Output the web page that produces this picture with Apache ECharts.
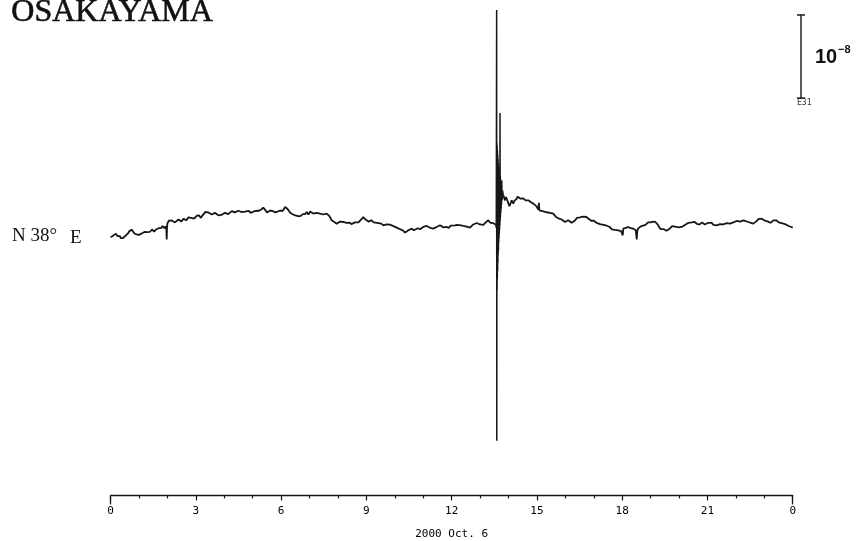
<!DOCTYPE html>
<html>
<head>
<meta charset="utf-8">
<script src="https://cdn.jsdelivr.net/npm/echarts@6/dist/echarts.min.js"></script>
<style>
  html, body { margin: 0; padding: 0; background: #ffffff; }
  #chart { width: 866px; height: 541px; }
</style>
</head>
<body>
<div id="chart"></div>
<script>
// Extensometer record, Osakayama station, 2000 Oct. 6 (hours, nanostrain)
const stationName = 'OSAKAYAMA';
const componentAngle = 'N 38°';
const componentDir = 'E';
const dateLabel = '2000 Oct. 6';
const hourTickLabels = ['0', '3', '6', '9', '12', '15', '18', '21', '0'];
const scaleBarLabel = '10';
const scaleBarExponent = '−8';
const scaleBarTag = 'E31';
const scaleBarStrain = 10;          // 1e-8 strain = 10 nanostrain
const scaleBarBase = 15.3;          // nanostrain level of the bar's lower end

// quiet trace, 00:00 until the seismic arrival
const traceBefore = [
  [0,-1.45],[0.02,-1.25],[0.04,-1.2],[0.06,-1.4],[0.084,-1.25],[0.11,-1.05],[0.13,-1.0],[0.15,-1.25],
  [0.17,-1.2],[0.19,-1.0],[0.215,-1.08],[0.24,-1.3],[0.27,-1.35],[0.30,-1.15],[0.331,-1.3],[0.355,-1.55],
  [0.38,-1.5],[0.41,-1.35],[0.436,-1.53],[0.47,-1.45],[0.5,-1.3],[0.54,-1.2],[0.577,-0.96],[0.62,-0.95],
  [0.66,-0.7],[0.70,-0.7],[0.742,-0.52],[0.77,-0.75],[0.8,-0.7],[0.83,-0.95],[0.859,-0.9],[0.885,-1.15],
  [0.91,-1.1],[0.94,-1.0],[0.964,-1.2],[1.0,-1.15],[1.03,-1.0],[1.07,-1.15],[1.105,-0.96],[1.15,-0.95],
  [1.19,-0.8],[1.23,-1.0],[1.27,-0.81],[1.30,-0.75],[1.34,-0.6],[1.38,-0.8],[1.422,-0.7],[1.455,-0.5],
  [1.49,-0.55],[1.53,-0.75],[1.562,-0.6],[1.60,-0.5],[1.65,-0.3],[1.69,-0.35],[1.738,-0.12],[1.77,-0.35],
  [1.8,-0.3],[1.83,-0.1],[1.86,-0.15],[1.89,-0.35],[1.914,-0.28],[1.94,-0.1],[1.96,-0.4],[1.974,-1.69],
  [1.985,-0.3],[2.0,0.25],[2.02,0.3],[2.05,0.55],[2.09,0.4],[2.14,0.6],[2.2,0.45],[2.26,0.35],
  [2.326,0.52],[2.39,0.7],[2.45,0.6],[2.49,0.45],[2.53,0.55],[2.57,0.8],[2.618,0.69],[2.66,0.6],
  [2.7,0.8],[2.74,0.95],[2.78,0.75],[2.84,0.9],[2.9,1.0],[2.94,0.8],[2.98,0.95],[3.03,1.15],
  [3.076,1.33],[3.11,1.2],[3.14,1.05],[3.17,0.9],[3.205,1.0],[3.25,1.25],[3.29,1.4],[3.33,1.6],
  [3.381,1.72],[3.44,1.55],[3.5,1.5],[3.56,1.3],[3.614,1.41],[3.67,1.5],[3.73,1.3],[3.79,1.2],
  [3.846,1.12],[3.9,1.25],[3.96,1.3],[4.02,1.5],[4.085,1.48],[4.14,1.35],[4.2,1.55],[4.26,1.7],
  [4.317,1.72],[4.37,1.55],[4.43,1.6],[4.49,1.75],[4.553,1.53],[4.61,1.6],[4.67,1.45],[4.73,1.65],
  [4.789,1.6],[4.86,1.75],[4.93,1.5],[5.0,1.55],[5.081,1.72],[5.15,1.55],[5.22,1.75],[5.3,1.9],
  [5.373,2.13],[5.41,1.95],[5.45,1.8],[5.5,1.55],[5.549,1.6],[5.6,1.75],[5.64,1.55],[5.68,1.75],
  [5.725,1.72],[5.8,1.55],[5.87,1.6],[5.95,1.75],[6.02,1.6],[6.06,1.75],[6.1,1.9],[6.14,2.2],
  [6.172,2.41],[6.22,2.0],[6.27,1.8],[6.32,1.5],[6.372,1.48],[6.42,1.3],[6.46,1.1],[6.5,1.2],
  [6.548,1.0],[6.59,1.1],[6.63,1.25],[6.68,1.1],[6.724,1.2],[6.77,1.35],[6.81,1.5],[6.85,1.35],
  [6.9,1.6],[6.93,1.45],[6.96,1.3],[6.99,1.5],[7.02,1.65],[7.08,1.45],[7.132,1.41],[7.19,1.6],
  [7.25,1.5],[7.31,1.35],[7.368,1.41],[7.42,1.55],[7.48,1.3],[7.54,1.45],[7.604,1.41],[7.65,1.3],
  [7.7,1.1],[7.74,0.85],[7.78,0.6],[7.82,0.55],[7.87,0.4],[7.91,0.3],[7.956,0.2],[8.01,0.35],
  [8.07,0.45],[8.13,0.3],[8.188,0.4],[8.24,0.25],[8.3,0.3],[8.35,0.45],[8.399,0.33],[8.47,0.15],
  [8.53,0.2],[8.6,0.35],[8.66,0.2],[8.72,0.35],[8.77,0.5],[8.83,0.75],[8.892,1.0],[8.95,0.75],
  [9.01,0.6],[9.07,0.45],[9.128,0.4],[9.17,0.6],[9.22,0.5],[9.26,0.35],[9.304,0.4],[9.38,0.3],
  [9.45,0.15],[9.52,0.2],[9.596,0],[9.65,0.2],[9.71,0.1],[9.77,-0.05],[9.831,0.08],[9.89,0.15],
  [9.95,-0.1],[10.01,-0.05],[10.067,-0.28],[10.13,-0.3],[10.2,-0.5],[10.28,-0.6],[10.359,-0.88],[10.42,-0.7],
  [10.48,-0.6],[10.54,-0.45],[10.595,-0.4],[10.67,-0.6],[10.74,-0.5],[10.81,-0.35],[10.887,-0.48],[10.94,-0.35],
  [11.0,-0.2],[11.06,-0.35],[11.123,-0.08],[11.18,-0.2],[11.24,-0.3],[11.3,-0.2],[11.355,-0.4],[11.41,-0.3],
  [11.47,-0.2],[11.53,-0.1],[11.591,0],[11.65,-0.15],[11.71,-0.25],[11.77,-0.1],[11.826,-0.2],[11.9,-0.3],
  [11.97,-0.05],[12.04,-0.15],[12.118,0],[12.19,0.05],[12.26,-0.15],[12.33,0],[12.41,-0.08],[12.47,0.05],
  [12.53,-0.15],[12.59,-0.1],[12.646,-0.28],[12.7,-0.1],[12.76,0.1],[12.82,0.05],[12.882,0.28],[12.94,0.2],
  [13.0,0.1],[13.06,0.25],[13.114,0.06],[13.16,0.2],[13.2,0.35],[13.25,0.2],[13.29,0.6],[13.32,0.45],
  [13.35,0.33],[13.39,0.15],[13.42,0.1],[13.46,0.25],[13.491,0.08],[13.52,0.2],[13.55,0.1]
];

// seismic waves of the Western Tottori earthquake
const traceBurst = [
  [13.55,0.1],[13.57,-0.3],[13.583,25.9],[13.588,-25.9],[13.592,9.9],[13.597,-7.8],[13.602,9.5],[13.607,-6.5],
  [13.612,9.0],[13.617,-5.5],[13.622,8.5],[13.627,-4.5],[13.632,8.0],[13.637,-3.5],[13.642,7.5],[13.647,-3.0],
  [13.652,7.0],[13.657,-2.0],[13.662,6.5],[13.667,-1.5],[13.672,6.0],[13.677,-1.0],[13.682,5.5],[13.687,-0.5],
  [13.692,5.0],[13.697,0],[13.702,13.5],[13.707,0.5],[13.712,6.0],[13.718,1.0],[13.724,5.5],[13.73,1.5],
  [13.736,5.0],[13.742,2.0],[13.748,4.8],[13.754,2.5],[13.762,5.4],[13.775,3.0],[13.79,4.2],[13.818,3.6]
];

// recovery after the shaking, until 24:00
const traceAfter = [
  [13.818,3.6],[13.85,3.3],[13.88,3.0],[13.91,3.4],[13.937,3.25],[13.97,2.9],[14.0,2.6],[14.03,2.3],
  [14.054,2.2],[14.08,2.7],[14.113,3.0],[14.14,2.8],[14.17,2.6],[14.2,2.9],[14.23,2.81],[14.26,3.1],
  [14.29,3.2],[14.32,3.45],[14.345,3.61],[14.39,3.3],[14.43,3.2],[14.48,3.4],[14.521,3.25],[14.56,3.1],
  [14.6,3.0],[14.65,3.15],[14.697,3.01],[14.74,2.85],[14.78,2.8],[14.83,2.7],[14.873,2.61],[14.93,2.45],
  [14.98,2.3],[15.02,2.1],[15.05,1.9],[15.07,2.7],[15.084,1.81],[15.14,1.75],[15.2,1.7],[15.27,1.6],
  [15.345,1.57],[15.4,1.4],[15.46,1.5],[15.52,1.35],[15.577,1.41],[15.62,1.2],[15.67,1.0],[15.71,0.95],
  [15.753,0.84],[15.78,0.7],[15.813,0.6],[15.87,0.7],[15.93,0.55],[15.99,0.4],[16.049,0.52],[16.1,0.6],
  [16.16,0.45],[16.22,0.3],[16.281,0.4],[16.33,0.55],[16.37,0.7],[16.41,0.9],[16.457,1.0],[16.51,0.95],
  [16.57,1.1],[16.63,1.05],[16.692,1.2],[16.74,1.0],[16.78,0.95],[16.82,0.8],[16.868,0.69],[16.91,0.55],
  [16.96,0.5],[17.0,0.55],[17.044,0.4],[17.1,0.3],[17.16,0.3],[17.22,0.15],[17.28,0.2],[17.34,0.05],
  [17.4,0.1],[17.46,-0.05],[17.512,0],[17.56,-0.2],[17.6,-0.3],[17.64,-0.5],[17.688,-0.6],[17.74,-0.55],
  [17.8,-0.7],[17.86,-0.6],[17.924,-0.81],[17.96,-0.7],[17.99,-0.6],[18.02,-1.2],[18.04,-0.4],[18.09,-0.45],
  [18.13,-0.3],[18.17,-0.15],[18.216,-0.2],[18.26,-0.15],[18.3,-0.35],[18.35,-0.3],[18.392,-0.4],[18.44,-0.5],
  [18.48,-0.6],[18.512,-1.7],[18.53,-0.7],[18.56,-0.4],[18.6,-0.2],[18.64,-0.15],[18.688,0],[18.73,-0.05],
  [18.78,0.1],[18.82,0.05],[18.864,0.2],[18.91,0.35],[18.95,0.4],[19.0,0.35],[19.04,0.52],[19.09,0.45],
  [19.13,0.3],[19.17,0.4],[19.215,0.2],[19.26,0.05],[19.3,-0.2],[19.35,-0.45],[19.391,-0.6],[19.45,-0.45],
  [19.5,-0.5],[19.56,-0.65],[19.624,-0.52],[19.67,-0.4],[19.72,-0.3],[19.76,-0.1],[19.799,0],[19.86,-0.15],
  [19.92,-0.1],[19.98,-0.25],[20.035,-0.33],[20.09,-0.2],[20.15,-0.1],[20.21,0.05],[20.271,0.12],[20.33,0.3],
  [20.39,0.4],[20.45,0.35],[20.503,0.52],[20.55,0.4],[20.6,0.3],[20.64,0.15],[20.679,0],[20.72,0.1],
  [20.77,0.15],[20.81,0.35],[20.855,0.28],[20.91,0.1],[20.97,0.15],[21.03,0.3],[21.091,0.2],[21.15,0.3],
  [21.21,0.05],[21.27,0.15],[21.326,0],[21.38,0.2],[21.44,0.15],[21.5,0.3],[21.559,0.12],[21.62,0.2],
  [21.68,0.25],[21.74,0.1],[21.794,0.2],[21.85,0.3],[21.91,0.35],[21.97,0.45],[22.03,0.52],[22.09,0.35],
  [22.15,0.45],[22.2,0.6],[22.262,0.6],[22.3,0.45],[22.35,0.5],[22.39,0.35],[22.438,0.4],[22.48,0.25],
  [22.53,0.3],[22.57,0.15],[22.614,0.2],[22.67,0.35],[22.73,0.5],[22.79,0.75],[22.85,0.93],[22.91,0.8],
  [22.97,0.7],[23.03,0.55],[23.086,0.6],[23.13,0.45],[23.17,0.45],[23.22,0.3],[23.262,0.4],[23.29,0.5],
  [23.32,0.6],[23.35,0.75],[23.378,0.81],[23.42,0.6],[23.47,0.5],[23.51,0.35],[23.554,0.2],[23.61,0.25],
  [23.67,0.1],[23.73,0.15],[23.789,0],[23.84,-0.05],[23.9,-0.1],[23.95,-0.2],[24.0,-0.28]
];

const INK = '#161616';
const Y_MIN = -32.5, Y_MAX = 26.5;
const TOP = 5, BOTTOM = 45.5;
const RECORD_GRID = { left: 110.6, right: 73.3, top: TOP, bottom: BOTTOM, outerBoundsMode: 'none', containLabel: false };
const BAR_GRID = { left: 797, width: 8, top: TOP, bottom: BOTTOM, outerBoundsMode: 'none', containLabel: false };

const chart = echarts.init(document.getElementById('chart'), null, { renderer: 'canvas' });

const ink = (w) => ({ color: INK, width: w });
const hiddenY = (gi) => ({ type: 'value', gridIndex: gi, min: Y_MIN, max: Y_MAX, show: false, splitLine: { show: false } });

chart.setOption({
  backgroundColor: '#ffffff',
  animation: false,
  grid: [ { ...RECORD_GRID }, { ...RECORD_GRID }, { ...BAR_GRID } ],
  xAxis: [
    {
      type: 'value', gridIndex: 0, min: 0, max: 24, interval: 3,
      name: dateLabel, nameLocation: 'middle', nameGap: 33,
      nameTextStyle: { fontFamily: 'DejaVu Sans Mono', fontSize: 11, color: '#000' },
      axisLine: { show: true, onZero: false, lineStyle: ink(1.3) },
      axisTick: { show: true, length: 5, lineStyle: ink(1.2) },
      minorTick: { show: true, splitNumber: 3, length: 3, lineStyle: ink(1.2) },
      axisLabel: {
        margin: 10, fontFamily: 'DejaVu Sans Mono', fontSize: 11, color: '#000',
        formatter: (v) => hourTickLabels[Math.round(v / 3)]
      },
      splitLine: { show: false }
    },
    {
      // taller ticks marking the two ends of the day
      type: 'value', gridIndex: 1, min: 0, max: 24, interval: 24,
      axisLine: { show: false, onZero: false },
      axisTick: { show: true, length: 9, lineStyle: ink(1.3) },
      axisLabel: { show: false },
      splitLine: { show: false }
    },
    { type: 'value', gridIndex: 2, min: 0, max: 1, show: false, splitLine: { show: false } }
  ],
  yAxis: [ hiddenY(0), hiddenY(1), hiddenY(2) ],
  series: [
    {
      type: 'line', xAxisIndex: 0, yAxisIndex: 0, data: traceBefore,
      showSymbol: false, lineStyle: ink(1.8), silent: true
    },
    {
      type: 'line', xAxisIndex: 0, yAxisIndex: 0, data: traceBurst,
      showSymbol: false, lineStyle: ink(1.5), silent: true
    },
    {
      type: 'line', xAxisIndex: 0, yAxisIndex: 0, data: traceAfter,
      showSymbol: false, lineStyle: ink(1.8), silent: true
    },
    {
      // 1e-8 strain scale bar
      type: 'line', xAxisIndex: 2, yAxisIndex: 2, silent: true, clip: false,
      data: [[0.5, scaleBarBase], [0.5, scaleBarBase + scaleBarStrain]],
      symbol: 'rect', symbolSize: [8, 1.5], showSymbol: true,
      itemStyle: { color: INK }, lineStyle: ink(1.4)
    }
  ],
  graphic: [
    {
      type: 'text', left: 11, top: -4,
      style: { text: stationName, font: '32px "Liberation Serif"', fill: '#111', stroke: '#111', lineWidth: 0.6 }
    },
    {
      type: 'text', x: 12, y: 236,
      style: { text: componentAngle, font: '19px "Liberation Serif"', fill: '#111', verticalAlign: 'middle' }
    },
    {
      type: 'text', x: 70, y: 238.5,
      style: { text: componentDir, font: '19px "Liberation Serif"', fill: '#111', verticalAlign: 'middle' }
    },
    {
      type: 'text', x: 815, y: 57.5,
      style: { text: scaleBarLabel, font: 'bold 20px "Liberation Sans"', fill: '#111', verticalAlign: 'middle' }
    },
    {
      type: 'text', x: 838, y: 50,
      style: { text: scaleBarExponent, font: 'bold 11px "Liberation Sans"', fill: '#111', verticalAlign: 'middle' }
    },
    {
      type: 'text', x: 797, y: 103,
      style: { text: scaleBarTag, font: '8px "DejaVu Sans Mono"', fill: '#333', verticalAlign: 'middle' }
    }
  ]
});
</script>
</body>
</html>
